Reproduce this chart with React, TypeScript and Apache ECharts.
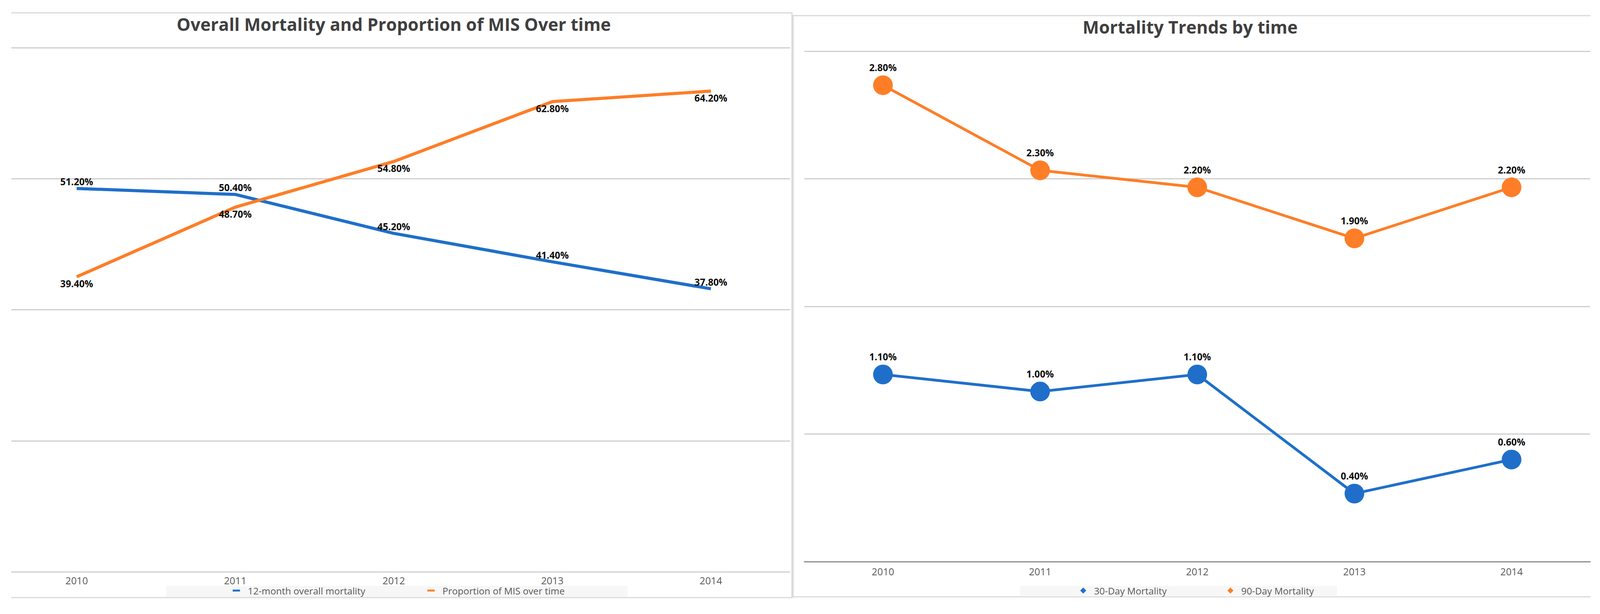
import React, { useEffect, useRef } from 'react';
import * as echarts from 'echarts';

const years = [2010, 2011, 2012, 2013, 2014];
const yearLabels = ['2010', '2011', '2012', '2013', '2014'];
const mortality12Month = [51.2, 50.4, 45.2, 41.4, 37.8];
const misProportion = [39.4, 48.7, 54.8, 62.8, 64.2];
const mortality30Day = [1.1, 1.0, 1.1, 0.4, 0.6];
const mortality90Day = [2.8, 2.3, 2.2, 1.9, 2.2];
const chartTitles = ['Overall Mortality and Proportion of MIS Over time', 'Mortality Trends by time'];
const leftSeriesNames = ['12-month overall mortality', 'Proportion of MIS over time'];
const rightSeriesNames = ['30-Day Mortality', '90-Day Mortality'];

const BLUE = '#1f6fca';
const ORANGE = '#fd7e27';
const GRID = '#cfcfcf';
const BORDER = '#dadada';
const FONT = "'Open Sans', sans-serif";

// design frame of the reference
const REF_W = 4380;
const REF_H = 1571;

export default function App() {
  const ref = useRef<HTMLDivElement>(null);
  const W = typeof window !== 'undefined' ? Math.min(window.innerWidth || REF_W, REF_W) : REF_W;
  const H = typeof window !== 'undefined' ? Math.min(window.innerHeight || REF_H, REF_H) : REF_H;

  useEffect(() => {
    if (!ref.current) return;
    const sx = W / REF_W;
    const sy = H / REF_H;
    const fs = (sx + sy) / 2;
    const X = (v: number) => v * sx;
    const Y = (v: number) => v * sy;
    const F = (v: number) => Math.round(v * fs * 10) / 10;

    const chart = echarts.init(ref.current, null, { renderer: 'svg' });
    const pct = (v: number) => v.toFixed(2) + '%';

    const labelStyle = {
      show: true,
      fontFamily: FONT,
      fontWeight: 'bold' as const,
      fontSize: F(25),
      color: '#0d0d0d',
    };
    const legendText = {
      fontFamily: FONT,
      fontSize: F(25),
      color: '#595959',
      padding: [0, 0, 0, X(16)],
    };
    const legendItem = (name: string, left: number, icon: string, w: number, h: number) => ({
      data: [name],
      left: X(left),
      top: Y(1499),
      padding: 0,
      itemWidth: w,
      itemHeight: h,
      icon,
      selectedMode: false,
      textStyle: legendText,
    });
    const axisLabelStyle = { color: '#595959', fontSize: F(26), fontFamily: FONT };

    const option: any = {
      animation: false,
      backgroundColor: '#ffffff',
      title: [
        {
          text: chartTitles[0],
          left: X(1078),
          top: Y(61),
          padding: 0,
          textAlign: 'center',
          textVerticalAlign: 'middle',
          textStyle: { fontFamily: FONT, fontWeight: 'bold', fontSize: F(46), color: '#404040' },
        },
        {
          text: chartTitles[1],
          left: X(3258),
          top: Y(68),
          padding: 0,
          textAlign: 'center',
          textVerticalAlign: 'middle',
          textStyle: { fontFamily: FONT, fontWeight: 'bold', fontSize: F(46), color: '#404040' },
        },
      ],
      legend: [
        legendItem(leftSeriesNames[0], 637, 'rect', X(20), Y(5)),
        legendItem(leftSeriesNames[1], 1170, 'rect', X(20), Y(5)),
        legendItem(rightSeriesNames[0], 2957, 'diamond', F(16), F(16)),
        legendItem(rightSeriesNames[1], 3360, 'diamond', F(16), F(16)),
      ],
      grid: [
        { left: X(31), right: X(REF_W - 2163), top: Y(122), bottom: Y(REF_H - 1463) },
        { left: X(2202), right: X(REF_W - 4353), top: Y(131), bottom: Y(REF_H - 1437) },
      ],
      xAxis: [
        {
          type: 'value',
          gridIndex: 0,
          min: 2009.5876,
          max: 2014.5,
          axisLine: { show: false },
          axisTick: { show: false },
          splitLine: { show: false },
          axisLabel: {
            ...axisLabelStyle,
            customValues: years,
            formatter: (v: number) => String(v),
            margin: Y(9),
          },
        },
        {
          type: 'category',
          gridIndex: 1,
          data: yearLabels,
          boundaryGap: true,
          axisLine: { show: true, lineStyle: { color: '#8c8c8c', width: 3 } },
          axisTick: { show: false },
          axisLabel: { ...axisLabelStyle, margin: Y(12) },
        },
      ],
      yAxis: [
        {
          type: 'value',
          gridIndex: 0,
          min: 0,
          max: 70,
          interval: 17.5,
          axisLabel: { show: false },
          axisLine: { show: false },
          axisTick: { show: false },
          splitLine: { show: true, lineStyle: { color: GRID, width: 3 } },
        },
        {
          type: 'value',
          gridIndex: 1,
          min: 0,
          max: 3,
          interval: 0.75,
          axisLabel: { show: false },
          axisLine: { show: false },
          axisTick: { show: false },
          splitLine: { show: true, lineStyle: { color: GRID, width: 3 } },
        },
      ],
      series: [
        {
          name: leftSeriesNames[0],
          type: 'line',
          xAxisIndex: 0,
          yAxisIndex: 0,
          data: years.map((y, i) => [y, mortality12Month[i]]),
          symbol: 'circle',
          symbolSize: 1,
          itemStyle: { color: BLUE },
          lineStyle: { color: BLUE, width: 8 },
          label: { ...labelStyle, position: 'top', distance: 5, formatter: (p: any) => pct(p.value[1]) },
        },
        {
          name: leftSeriesNames[1],
          type: 'line',
          xAxisIndex: 0,
          yAxisIndex: 0,
          data: years.map((y, i) => [y, misProportion[i]]),
          symbol: 'circle',
          symbolSize: 1,
          itemStyle: { color: ORANGE },
          lineStyle: { color: ORANGE, width: 8 },
          label: { ...labelStyle, position: 'bottom', distance: 5, formatter: (p: any) => pct(p.value[1]) },
        },
        {
          name: rightSeriesNames[0],
          type: 'line',
          xAxisIndex: 1,
          yAxisIndex: 1,
          data: mortality30Day,
          symbol: 'circle',
          symbolSize: F(52),
          itemStyle: { color: BLUE },
          lineStyle: { color: BLUE, width: 7 },
          label: { ...labelStyle, position: 'top', distance: 8, formatter: (p: any) => pct(p.value) },
        },
        {
          name: rightSeriesNames[1],
          type: 'line',
          xAxisIndex: 1,
          yAxisIndex: 1,
          data: mortality90Day,
          symbol: 'circle',
          symbolSize: F(52),
          itemStyle: { color: ORANGE },
          lineStyle: { color: ORANGE, width: 7 },
          label: { ...labelStyle, position: 'top', distance: 8, formatter: (p: any) => pct(p.value) },
        },
      ],
      graphic: [
        {
          type: 'polyline',
          z: 0,
          silent: true,
          shape: { points: [[X(31), Y(33)], [X(2168), Y(33)], [X(2168), Y(1529)], [X(31), Y(1529)]] },
          style: { stroke: BORDER, lineWidth: 3, fill: null },
        },
        {
          type: 'polyline',
          z: 0,
          silent: true,
          shape: { points: [[X(4354), Y(40)], [X(2171), Y(40)], [X(2171), Y(1527)], [X(4354), Y(1527)]] },
          style: { stroke: BORDER, lineWidth: 3, fill: null },
        },
        {
          type: 'rect',
          z: 0,
          silent: true,
          shape: { x: X(455), y: Y(1499), width: X(1263), height: Y(28) },
          style: { fill: '#f7f7f7' },
        },
        {
          type: 'rect',
          z: 0,
          silent: true,
          shape: { x: X(2792), y: Y(1499), width: X(868), height: Y(27) },
          style: { fill: '#f7f7f7' },
        },
      ],
    };
    chart.setOption(option);
    return () => chart.dispose();
  }, [W, H]);

  return (
    <div
      ref={ref}
      style={{ position: 'absolute', left: 0, top: 0, width: W, height: H, background: '#fff' }}
    />
  );
}
